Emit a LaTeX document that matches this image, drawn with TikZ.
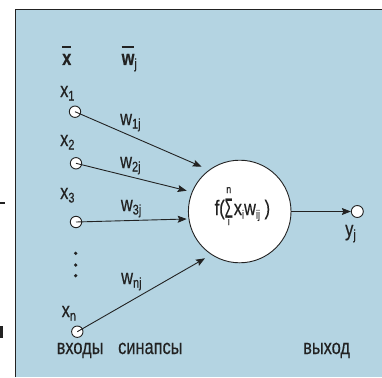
\documentclass[tikz,border=0pt]{standalone}
\usepackage{fontspec}
\setmainfont{Liberation Sans}[FakeStretch=0.78,FakeBold=0.4]
\usetikzlibrary{arrows.meta}
\definecolor{panel}{RGB}{180,212,226}
\definecolor{ink}{RGB}{34,34,34}
\newcommand\lsub[1]{\raisebox{-3.5pt}{\fontsize{14}{14}\selectfont #1}}
\newcommand\ssub[1]{\raisebox{-3.5pt}{\fontsize{12}{12}\selectfont #1}}
\newcommand\ovl[1]{\vbox{\hrule height 1.5pt\kern 6pt\hbox{#1}}}
\newcommand\sumstack{\setbox0\hbox{\raisebox{-2.5pt}{\scalebox{0.8}[1.3]{Σ}}}\rlap{\hbox to\wd0{\hss\raisebox{22pt}{\fontsize{11}{11}\selectfont n}\hss}}\rlap{\hbox to\wd0{\hss\raisebox{-10pt}{\fontsize{11}{11}\selectfont i}\hss}}\box0\kern1pt}
\begin{document}
\begin{tikzpicture}[x=1pt,y=-1pt,
 lbl/.style={anchor=base west,inner sep=0pt,text=ink,font=\fontsize{21}{25}\selectfont},
 inp/.style={circle,draw=ink,fill=white,line width=0.9pt,minimum size=11.4pt,inner sep=0pt},
 syn/.style={draw=ink,line width=0.9pt,-{Stealth[length=9pt,width=7pt,inset=1.5pt]}},
 dotnode/.style={circle,fill=ink,minimum size=3.6pt,inner sep=0pt}]
\useasboundingbox (0,0) rectangle (382,377);
\fill[panel] (15,9.5) rectangle (382,377);
\draw[ink,line width=1pt] (15,377) -- (15,9.5) -- (382,9.5);
\fill[ink] (0,202.3) rectangle (5,203.8);
\fill[ink] (0,326) rectangle (3,338);
% header labels
\node[lbl] (xbar) at (62,65) {\ovl{\textbf{x}}};
\node[lbl] (wbar) at (121.5,65) {\ovl{\textbf{w}}\lsub{j}};
% input labels
\node[lbl] (lx1) at (60,97) {x\lsub{1}};
\node[lbl] (lx2) at (60,146) {x\lsub{2}};
\node[lbl] (lx3) at (60,199) {x\lsub{3}};
\node[lbl] (lxn) at (61.5,317) {x\lsub{n}};
% weight labels
\node[lbl] (lw1) at (120,125) {w\lsub{1j}};
\node[lbl] (lw2) at (120,168) {w\lsub{2j}};
\node[lbl] (lw3) at (120.7,211) {w\lsub{3j}};
\node[lbl] (lwn) at (121,284) {w\lsub{nj}};
% bottom labels
\node[lbl] (tin) at (56.5,354) {входы};
\node[lbl] (tsyn) at (118,354) {синапсы};
\node[lbl] (tout) at (303,354) {выход};
\node[lbl] (ly) at (345,236) {y\lsub{j}};
% neuron
\node[circle,draw=ink,fill=white,line width=0.9pt,minimum size=102.6pt,inner sep=0pt] (neuron) at (239.7,211.5) {};
\node[lbl] (fml) at (214.5,215) {f(\sumstack x\ssub{i}w\ssub{ij} )};
% inputs
\node[inp] (x1) at (75,111.7) {};
\node[inp] (x2) at (76,163.3) {};
\node[inp] (x3) at (76,222) {};
\node[inp] (xn) at (77.3,331.7) {};
\node[dotnode] (d1) at (75.7,253.3) {};
\node[dotnode] (d2) at (75.7,265) {};
\node[dotnode] (d3) at (75.7,275.7) {};
\coordinate (t1) at (201.7,166.7);
\coordinate (t2) at (186.7,190.7);
\coordinate (t3) at (186.7,219);
\coordinate (tn) at (205,258.3);
\draw[syn] (x1.center) -- (t1);
\draw[syn] (x2.center) -- (t2);
\draw[syn] (x3.center) -- (t3);
\draw[syn] (xn.center) -- (tn);
% output
\node[inp,minimum size=12pt] (y) at (357.3,211.5) {};
\draw[syn] (neuron.east) -- (y.west);
\end{tikzpicture}
\end{document}
